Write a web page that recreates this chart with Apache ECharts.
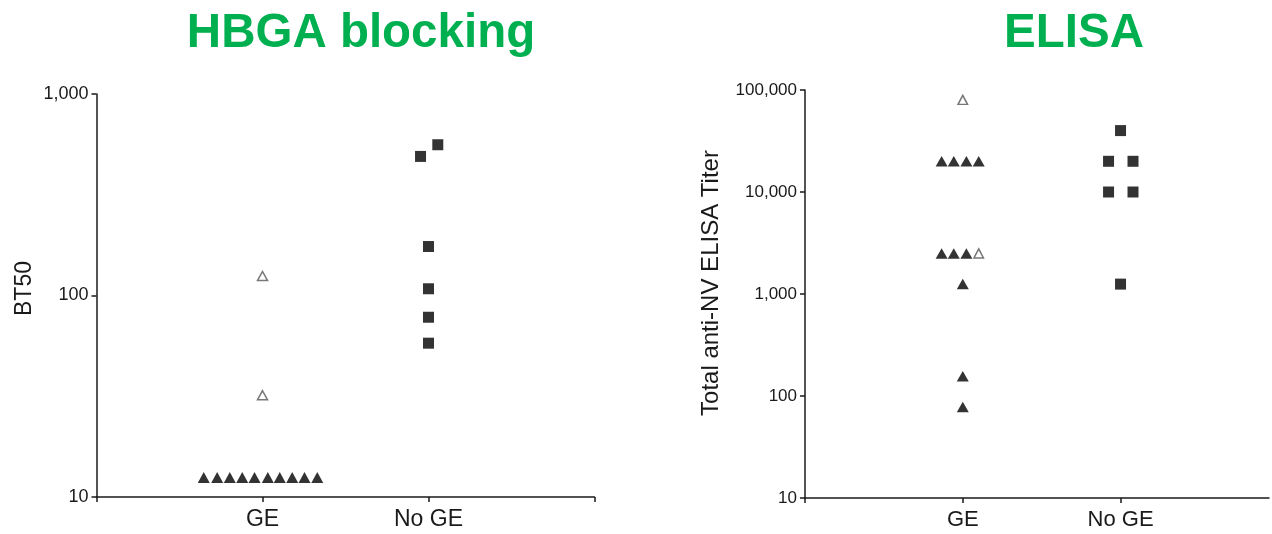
<!DOCTYPE html>
<html>
<head>
<meta charset="utf-8">
<script src="https://cdn.jsdelivr.net/npm/echarts@6/dist/echarts.min.js"></script>
<style>
html,body{margin:0;padding:0;background:#fff;}
#chart{width:1272px;height:534px;}
</style>
</head>
<body>
<div id="chart"></div>
<script>
// ---- data ----
const categories = ['GE', 'No GE'];

const hbgaTitle = 'HBGA blocking';
const elisaTitle = 'ELISA';
const hbgaYName = 'BT50';
const elisaYName = 'Total anti-NV ELISA Titer';

// HBGA blocking (BT50)
const hbgaGEFilled = [12.5, 12.5, 12.5, 12.5, 12.5, 12.5, 12.5, 12.5, 12.5, 12.5];
const hbgaGEFilledJitter = [-0.354, -0.273, -0.197, -0.122, -0.048, 0.032, 0.104, 0.179, 0.253, 0.330];
const hbgaGEOpen = [125, 32];
const hbgaGEOpenJitter = [0, 0];
const hbgaNoGE = [490, 560, 175, 108, 78, 58];
const hbgaNoGEJitter = [-0.048, 0.056, 0, 0, 0, 0];

// ELISA titer
const elisaGEFilled = [20000, 20000, 20000, 20000, 2500, 2500, 2500, 1250, 156, 78];
const elisaGEFilledJitter = [-0.134, -0.057, 0.023, 0.101, -0.134, -0.057, 0.023, 0, 0, 0];
const elisaGEOpen = [80000, 2500];
const elisaGEOpenJitter = [0, 0.101];
const elisaNoGE = [40000, 20000, 20000, 10000, 10000, 1250];
const elisaNoGEJitter = [0, -0.076, 0.079, -0.076, 0.079, 0];

// ---- helpers ----
function pts(catIdx, values, jitter) {
  return values.map((v, i) => [catIdx + 1 + jitter[i], v]);
}
const font = 'Liberation Sans, Arial, Helvetica, sans-serif';
const ink = '#1a1a1a';
const green = '#00B050';

function xAxis(gridIndex, fs, max, tickValues) {
  const tick = { show: true, length: 5, lineStyle: { color: ink, width: 1.5 } };
  if (tickValues) tick.customValues = tickValues;
  return {
    type: 'value', gridIndex, min: 0, max, interval: 1,
    axisLine: { lineStyle: { color: ink, width: 1.5 } },
    axisTick: tick,
    splitLine: { show: false },
    axisLabel: {
      color: ink, fontFamily: font, fontSize: fs, margin: 11,
      formatter: v => (v >= 1 && v <= categories.length && Math.abs(v - Math.round(v)) < 1e-6) ? categories[Math.round(v) - 1] : ''
    }
  };
}
function yAxis(gridIndex, max, name, fs, nfs, gap, pad) {
  return {
    type: 'log', logBase: 10, gridIndex, min: 10, max, interval: 1,
    name, nameLocation: 'middle', nameGap: gap, nameRotate: 90,
    nameTextStyle: { color: ink, fontFamily: font, fontSize: nfs, padding: pad },
    axisLine: { show: true, lineStyle: { color: ink, width: 1.5 } },
    axisTick: { show: true, length: 5, lineStyle: { color: ink, width: 1.5 } },
    minorTick: { show: false },
    splitLine: { show: false },
    axisLabel: {
      color: ink, fontFamily: font, fontSize: fs, margin: 8,
      formatter: v => Math.round(v).toLocaleString('en-US')
    }
  };
}
const triFilled = (size) => ({ symbol: 'triangle', symbolSize: size, itemStyle: { color: '#000' } });
const triOpen = (size) => ({ symbol: 'triangle', symbolSize: size, itemStyle: { color: '#fff', borderColor: '#555', borderWidth: 1.5 } });
const square = (size) => ({ symbol: 'rect', symbolSize: size, itemStyle: { color: '#000' } });

const chart = echarts.init(document.getElementById('chart'), null, { renderer: 'canvas' });
chart.setOption({
  animation: false,
  backgroundColor: '#fff',
  title: [
    { text: hbgaTitle, left: 356, top: 5, textAlign: 'center',
      textStyle: { color: green, fontFamily: font, fontWeight: 'bold', fontSize: 47.5 } },
    { text: elisaTitle, left: 1069, top: 5, textAlign: 'center',
      textStyle: { color: green, fontFamily: font, fontWeight: 'bold', fontSize: 47.5 } }
  ],
  grid: [
    { left: 96.5, top: 94, width: 498, height: 403 },
    { left: 805, top: 90, width: 467, height: 408 }
  ],
  xAxis: [xAxis(0, 23, 3), xAxis(1, 22, 2.941, [0, 1, 2])],
  yAxis: [
    yAxis(0, 1000, hbgaYName, 18, 23, 60, [0, 0, 0, 14]),
    yAxis(1, 100000, elisaYName, 17, 24, 82, [0, 0, 0, 22])
  ],
  series: [
    Object.assign({ type: 'scatter', xAxisIndex: 0, yAxisIndex: 0, data: pts(0, hbgaGEFilled, hbgaGEFilledJitter) }, triFilled([12, 11])),
    Object.assign({ type: 'scatter', xAxisIndex: 0, yAxisIndex: 0, data: pts(0, hbgaGEOpen, hbgaGEOpenJitter) }, triOpen([10, 9])),
    Object.assign({ type: 'scatter', xAxisIndex: 0, yAxisIndex: 0, data: pts(1, hbgaNoGE, hbgaNoGEJitter) }, square(11)),
    Object.assign({ type: 'scatter', xAxisIndex: 1, yAxisIndex: 1, data: pts(0, elisaGEFilled, elisaGEFilledJitter) }, triFilled([12, 10.5])),
    Object.assign({ type: 'scatter', xAxisIndex: 1, yAxisIndex: 1, data: pts(0, elisaGEOpen, elisaGEOpenJitter) }, triOpen([9.5, 9])),
    Object.assign({ type: 'scatter', xAxisIndex: 1, yAxisIndex: 1, data: pts(1, elisaNoGE, elisaNoGEJitter) }, square(11))
  ]
});
</script>
</body>
</html>
